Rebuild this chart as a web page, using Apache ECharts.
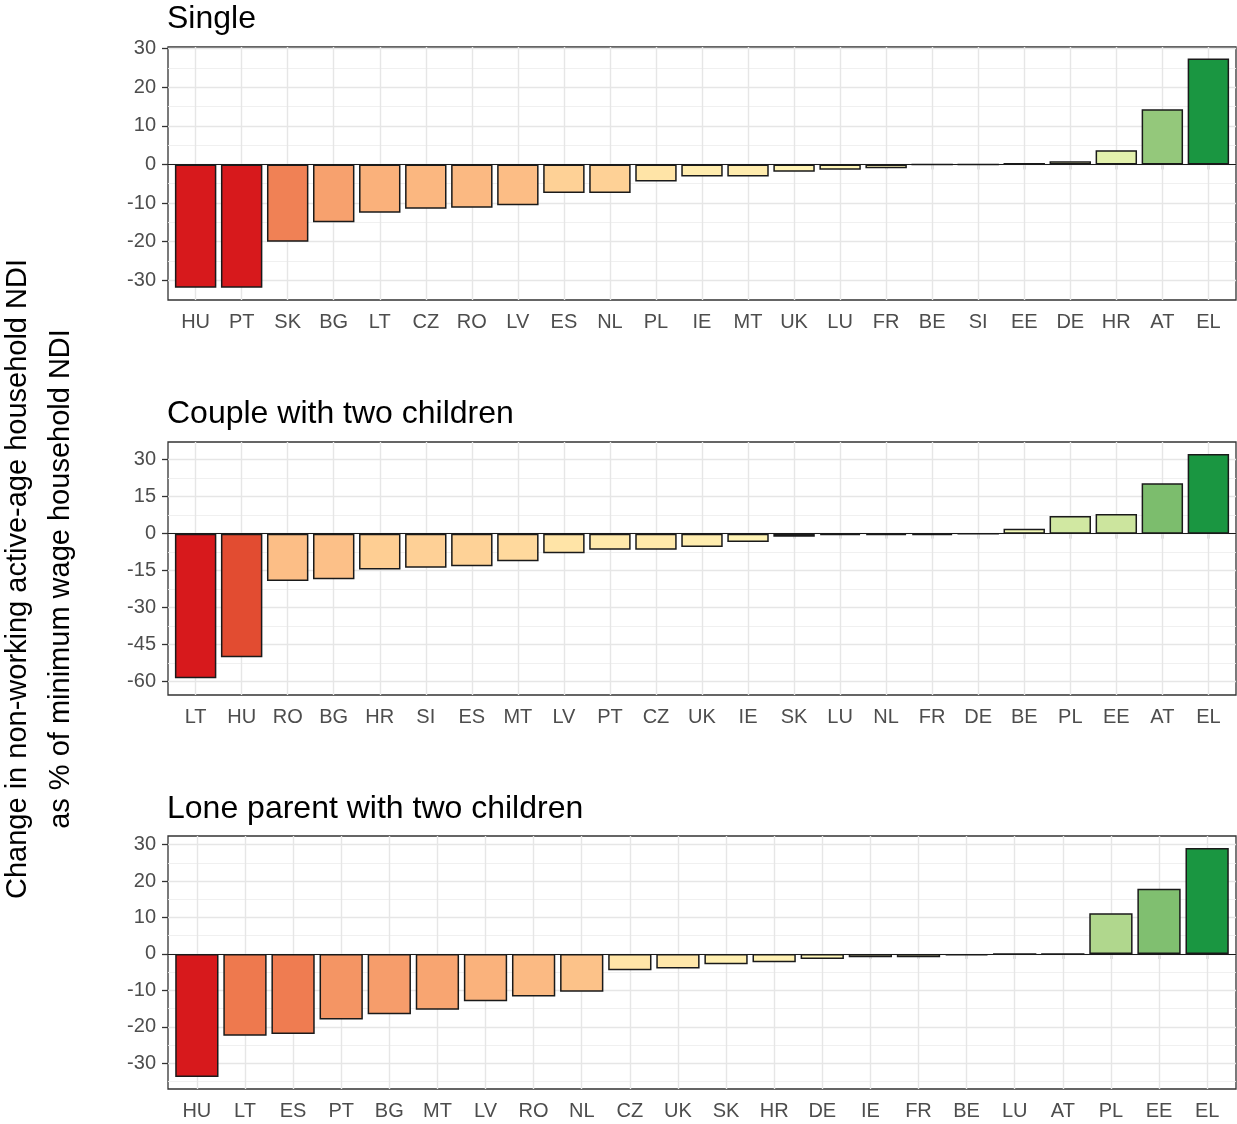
<!DOCTYPE html>
<html>
<head>
<meta charset="utf-8">
<script src="https://cdn.jsdelivr.net/npm/echarts@6/dist/echarts.min.js"></script>
<style>
html,body{margin:0;padding:0;background:#ffffff;}
#chart{width:1237px;height:1124px;}
</style>
</head>
<body>
<div id="chart"></div>
<script>
// ---------------- DATA ----------------
const panelTitles = ['Single', 'Couple with two children', 'Lone parent with two children'];

const singleCountries = ['HU','PT','SK','BG','LT','CZ','RO','LV','ES','NL','PL','IE','MT','UK','LU','FR','BE','SI','EE','DE','HR','AT','EL'];
const singleValues    = [-31.9,-31.9,-20.0,-15.0,-12.5,-11.5,-11.2,-10.6,-7.4,-7.4,-4.4,-3.1,-3.1,-1.9,-1.4,-1.0,0,0,0.4,0.8,3.7,14.3,27.4];

const coupleCountries = ['LT','HU','RO','BG','HR','SI','ES','MT','LV','PT','CZ','UK','IE','SK','LU','NL','FR','DE','BE','PL','EE','AT','EL'];
const coupleValues    = [-58.7,-50.2,-19.2,-18.5,-14.6,-13.8,-13.2,-11.2,-8.0,-6.5,-6.5,-5.4,-3.4,-1.3,-0.6,-0.6,-0.6,0,2.0,7.2,8.0,20.5,32.3];

const loneCountries = ['HU','LT','ES','PT','BG','MT','LV','RO','NL','CZ','UK','SK','HR','DE','IE','FR','BE','LU','AT','PL','EE','EL'];
const loneValues    = [-33.8,-22.5,-22.0,-18.0,-16.6,-15.3,-13.0,-11.7,-10.4,-4.5,-4.0,-2.8,-2.3,-1.4,-0.9,-0.9,-0.4,0,0,11.2,17.9,29.1];

const singleTicks = [-30,-20,-10,0,10,20,30];
const coupleTicks = [-60,-45,-30,-15,0,15,30];
const loneTicks   = [-30,-20,-10,0,10,20,30];

const singleMinor = [-25,-15,-5,5,15,25];
const coupleMinor = [-52.5,-37.5,-22.5,-7.5,7.5,22.5];
const loneMinor   = [-35,-25,-15,-5,5,15,25];

const singleRange = [-35.1, 30.4];
const coupleRange = [-65.5, 37.2];
const loneRange   = [-37.1, 32.4];

const yTitle = 'Change in non-working active-age household NDI\nas % of minimum wage household NDI';

// ---------------- HELPERS ----------------
const FONT = '"Liberation Sans", Arial, Helvetica, sans-serif';
const paletteStops = [[-1,'#d7191c'],[0,'#ffffbf'],[1,'#1a9641']];

function hexToRgb(h) { return [1,3,5].map(k => parseInt(h.substr(k,2),16)); }
function toLin(c) { c /= 255; return c <= 0.04045 ? c / 12.92 : Math.pow((c + 0.055) / 1.055, 2.4); }
function fromLin(c) { const v = c <= 0.0031308 ? 12.92 * c : 1.055 * Math.pow(c, 1/2.4) - 0.055; return Math.max(0, Math.min(255, Math.round(v * 255))); }
const WN = [0.95047, 1, 1.08883];
function rgbToLab(rgb) {
  const [r,g,b] = rgb.map(toLin);
  const X = (0.4124*r + 0.3576*g + 0.1805*b) / WN[0];
  const Y = (0.2126*r + 0.7152*g + 0.0722*b) / WN[1];
  const Z = (0.0193*r + 0.1192*g + 0.9505*b) / WN[2];
  const f = t => t > 0.008856 ? Math.cbrt(t) : 7.787*t + 16/116;
  const fx = f(X), fy = f(Y), fz = f(Z);
  return [116*fy - 16, 500*(fx - fy), 200*(fy - fz)];
}
function labToRgb(lab) {
  const fy = (lab[0] + 16) / 116, fx = fy + lab[1] / 500, fz = fy - lab[2] / 200;
  const fi = t => t*t*t > 0.008856 ? t*t*t : (t - 16/116) / 7.787;
  const X = fi(fx) * WN[0], Y = fi(fy) * WN[1], Z = fi(fz) * WN[2];
  const r =  3.2406*X - 1.5372*Y - 0.4986*Z;
  const g = -0.9689*X + 1.8758*Y + 0.0415*Z;
  const b =  0.0557*X - 0.2040*Y + 1.0570*Z;
  return [r,g,b].map(fromLin);
}
const labStops = paletteStops.map(s => [s[0], rgbToLab(hexToRgb(s[1]))]);
function colorFor(v, lo, hi) {
  let t = v < 0 ? v / Math.abs(lo) : (hi > 0 ? v / hi : 0);
  t = Math.max(-1, Math.min(1, t));
  for (let k = 0; k < labStops.length - 1; k++) {
    const a = labStops[k], b = labStops[k+1];
    if (t >= a[0] && t <= b[0]) {
      const f = (t - a[0]) / (b[0] - a[0]);
      const lab = a[1].map((x, j) => x + (b[1][j] - x) * f);
      return 'rgb(' + labToRgb(lab).join(',') + ')';
    }
  }
  return '#ffffbf';
}

const panels = [
  {title: panelTitles[0], cats: singleCountries, vals: singleValues, ticks: singleTicks, minor: singleMinor, range: singleRange},
  {title: panelTitles[1], cats: coupleCountries, vals: coupleValues, ticks: coupleTicks, minor: coupleMinor, range: coupleRange},
  {title: panelTitles[2], cats: loneCountries,   vals: loneValues,   ticks: loneTicks,   minor: loneMinor,   range: loneRange}
];

// ---------------- LAYOUT ----------------
const L = 168, R = 1236, H = 253;
const tops = [47, 442, 836];
const titleTops = [3.5, 398.5, 793];

const grid = [], xAxis = [], yAxis = [], series = [], title = [];

panels.forEach((p, i) => {
  const n = p.cats.length;
  const u = (R - L) / (n + 0.2);
  const og = 2 * i, ig = 2 * i + 1;
  const lo = Math.min(...p.vals), hi = Math.max(...p.vals);

  title.push({
    text: p.title, left: 167, top: titleTops[i], padding: 0,
    textStyle: {fontSize: 32, fontWeight: 'normal', color: '#000', fontFamily: FONT}
  });

  grid.push({left: L, top: tops[i], width: R - L, height: H, show: true,
             borderColor: '#333333', borderWidth: 1.3, backgroundColor: '#ffffff', containLabel: false});
  grid.push({left: L + 0.1 * u, top: tops[i], width: n * u, height: H, containLabel: false});

  xAxis.push({gridIndex: og, type: 'value', min: 0, max: 1, show: false});
  xAxis.push({
    gridIndex: ig, type: 'category', data: p.cats,
    axisLine: {show: false},
    axisTick: {show: true, alignWithLabel: true, length: 5, lineStyle: {color: '#333333', width: 1.3}},
    axisLabel: {interval: 0, color: '#4d4d4d', fontSize: 20, fontFamily: FONT, margin: 12.5},
    splitLine: {show: false}
  });

  yAxis.push({
    gridIndex: og, type: 'value', min: p.range[0], max: p.range[1],
    axisLine: {show: false},
    splitLine: {show: false},
    minorSplitLine: {show: false},
    axisTick: {show: true, length: 6, lineStyle: {color: '#333333', width: 1.3}, customValues: p.ticks},
    axisLabel: {color: '#4d4d4d', fontSize: 20, fontFamily: FONT, margin: 12, customValues: p.ticks}
  });
  yAxis.push({gridIndex: ig, type: 'value', min: p.range[0], max: p.range[1], show: false});

  // horizontal grid lines (major + minor)
  series.push({
    type: 'line', xAxisIndex: og, yAxisIndex: og, data: [], z: 1, silent: true,
    markLine: {
      z: 1, silent: true, symbol: 'none', animation: false, label: {show: false},
      emphasis: {disabled: true},
      lineStyle: {type: 'solid', color: '#ebebeb', width: 1.2},
      data: p.minor.map(v => ({yAxis: v, lineStyle: {type: 'solid', color: '#eeeeee', width: 0.9}}))
        .concat(p.ticks.map(v => ({yAxis: v, lineStyle: {type: 'solid', color: '#e6e6e6', width: 1.4}})))
    }
  });
  // vertical grid lines at category centres
  series.push({
    type: 'line', xAxisIndex: ig, yAxisIndex: ig, data: [], z: 1, silent: true,
    markLine: {
      z: 1, silent: true, symbol: 'none', animation: false, label: {show: false},
      emphasis: {disabled: true},
      lineStyle: {type: 'solid', color: '#e6e6e6', width: 1.4},
      data: p.cats.map(c => ({xAxis: c}))
    }
  });
  // bars
  series.push({
    type: 'bar', xAxisIndex: ig, yAxisIndex: ig, barWidth: '90%', z: 3, silent: true,
    itemStyle: {borderColor: '#1a1a1a', borderWidth: 1.5},
    data: p.vals.map(v => ({value: v, itemStyle: {color: colorFor(v, lo, hi)}}))
  });
  // zero line
  series.push({
    type: 'line', xAxisIndex: og, yAxisIndex: og, data: [], z: 4, silent: true,
    markLine: {
      z: 6, silent: true, symbol: 'none', animation: false, label: {show: false},
      emphasis: {disabled: true},
      lineStyle: {type: 'solid', color: '#1a1a1a', width: 1.2},
      data: [{yAxis: 0}]
    }
  });
});

const chart = echarts.init(document.getElementById('chart'), null, {renderer: 'canvas'});
chart.setOption({
  animation: false,
  backgroundColor: '#ffffff',
  title: title,
  grid: grid,
  xAxis: xAxis,
  yAxis: yAxis,
  series: series,
  graphic: [{
    type: 'text', x: 39.5, y: 579, rotation: Math.PI / 2, silent: true,
    style: {
      text: yTitle, fill: '#000000', align: 'center', verticalAlign: 'middle',
      font: '29px ' + FONT, lineHeight: 43.5
    }
  }]
});
</script>
</body>
</html>
